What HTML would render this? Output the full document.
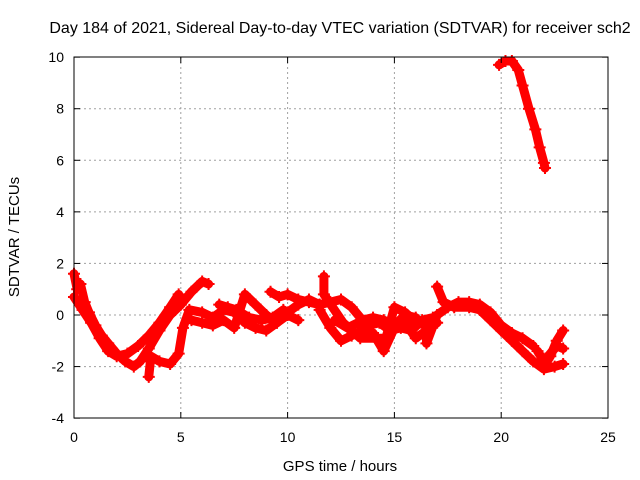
<!DOCTYPE html>
<html><head><meta charset="utf-8"><style>
body{margin:0;background:#fff;}
svg{display:block;font-family:"Liberation Sans",sans-serif;}
</style></head><body>
<svg id="chart" width="640" height="480" viewBox="0 0 640 480">
<text x="340" y="33" font-size="16" text-anchor="middle">Day 184 of 2021, Sidereal Day-to-day VTEC variation (SDTVAR) for receiver sch2</text>
<text x="340" y="471" font-size="15" text-anchor="middle">GPS time / hours</text>
<text x="19" y="237" font-size="15" text-anchor="middle" transform="rotate(-90 19 237)">SDTVAR / TECUs</text>
<g id="grid"></g>
<g id="marks"></g>
<rect x="74" y="57" width="534" height="361" fill="none" stroke="#000" stroke-width="1"/>
<g id="ticks"></g>
</svg>
<script>
const xTicks=[0,5,10,15,20,25];
const yTicks=[-4,-2,0,2,4,6,8,10];
const s1=[[0,1.6],[0.15,1.0],[0.3,1.2],[0.5,0.5],[0.7,0.1],[1,-0.4],[1.3,-0.8],[1.6,-1.1],[2,-1.5],[2.4,-1.8],[2.8,-2.0],[3.1,-1.8],[3.5,-1.3],[4,-0.6],[4.5,0],[5,0.4],[5.5,0.9],[6,1.3],[6.3,1.2]];
const s2=[[0,0.7],[0.4,0.2],[0.8,-0.3],[1.2,-0.9],[1.6,-1.4],[2,-1.6],[2.5,-1.5],[3,-1.2],[3.5,-0.8],[4,-0.3],[4.5,0.3],[4.9,0.8]];
const s3=[[3.5,-2.4],[3.6,-1.6],[4,-1.8],[4.5,-1.9],[4.9,-1.5],[5.1,-0.5],[5.4,0.2],[6,0.1],[6.5,-0.1],[7,0.2],[7.5,0.1],[8,-0.3],[8.5,-0.5],[9,-0.6],[9.5,-0.3],[10,0.1],[10.5,0.4],[11,0.6],[11.5,0.4]];
const s4=[[5.5,-0.2],[6,-0.3],[6.5,-0.4],[7,-0.2],[7.5,-0.5],[8,0.8],[8.5,0.4],[9,0],[9.5,-0.3],[10,0],[10.5,-0.2]];
const s5=[[9.2,0.9],[9.6,0.7],[10,0.8],[10.5,0.6],[11,0.5],[11.5,0.4],[12,0.5],[12.5,0.6],[13,0.3],[13.5,-0.2],[14,-0.1],[14.5,-0.2],[15,-0.4],[15.5,0],[16,-0.1]];
const s6=[[11.5,0.2],[12,-0.5],[12.5,-1.0],[13,-0.8],[13.5,-0.6],[14,-0.7],[14.5,-1.4],[15,-0.5],[15.5,-0.3],[16,-0.9],[16.5,-0.6],[17,-0.3]];
const s7=[[11.7,1.5],[11.7,0.8],[12.6,-0.3],[13.4,-0.9],[14.6,-0.9],[15,0.3],[15.5,0.1],[16,-0.3],[16.5,-0.4],[16.5,-1.1],[17,0],[17.5,0.3],[18,0.5],[18.5,0.5],[19,0.4],[19.5,0.1],[20,-0.4],[20.5,-0.7],[21,-0.9],[21.5,-1.2]];
const s8=[[17,1.1],[17.3,0.5],[17.8,0.3],[18.5,0.3],[19,0.2],[19.5,-0.2],[20,-0.6],[20.5,-1.0],[21,-1.4],[21.5,-1.8],[22,-2.1],[22.5,-2.0],[22.9,-1.9]];
const s9=[[21.7,-1.4],[22,-1.8],[22.3,-1.5],[22.6,-1.2],[22.9,-1.3]];
const s10=[[22,-2.0],[22.3,-1.6],[22.6,-1.0],[22.9,-0.6]];
const s11=[[19.9,9.7],[20.2,9.85],[20.5,9.85],[20.8,9.5],[21,8.9],[21.3,8.0],[21.6,7.2],[21.8,6.5],[22,5.9],[22.05,5.7]];
const s12=[[12.2,-0.2],[12.8,-0.5],[13.3,-0.3],[13.8,-0.4],[14.3,-0.3],[14.8,-0.6],[15.3,-0.5],[15.8,-0.6],[16.3,-0.2],[16.8,-0.1]];
const s13=[[6.8,0.4],[7.2,0.3],[7.6,0.2],[8.2,-0.1],[8.8,-0.2],[9.3,-0.1],[9.8,0.2]];
const seriesList=[s1,s2,s3,s4,s5,s6,s7,s8,s9,s10,s11,s12,s13];
const X=t=>74+t*(534/25);
const Y=v=>315-v*(361/14);
const NS='http://www.w3.org/2000/svg';
const grid=document.getElementById('grid'),ticks=document.getElementById('ticks'),marks=document.getElementById('marks');
function mk(tag,attrs,parent){const e=document.createElementNS(NS,tag);for(const k in attrs)e.setAttribute(k,attrs[k]);parent.appendChild(e);return e;}
xTicks.forEach(t=>{const x=X(t);
 if(t>0&&t<25){const g=mk('line',{x1:x,x2:x,y1:57,y2:418,stroke:'#a0a0a0','stroke-dasharray':'2,3'},grid);
 
 }
 mk('line',{x1:x,x2:x,y1:418,y2:412,stroke:'#000'},ticks);mk('line',{x1:x,x2:x,y1:57,y2:63,stroke:'#000'},ticks);
 const l=mk('text',{x:x,y:442,'font-size':'14','text-anchor':'middle'},ticks);l.textContent=t;
 
 });
yTicks.forEach(v=>{const y=Y(v);
 if(v>-4&&v<10){const g=mk('line',{x1:74,x2:608,y1:y,y2:y,stroke:'#a0a0a0','stroke-dasharray':'2,3'},grid);
 
 }
 mk('line',{x1:74,x2:80,y1:y,y2:y,stroke:'#000'},ticks);mk('line',{x1:608,x2:602,y1:y,y2:y,stroke:'#000'},ticks);
 const l=mk('text',{x:64,y:y+5,'font-size':'14','text-anchor':'end'},ticks);l.textContent=v;
 
 });
seriesList.forEach((s,i)=>{
 const p=mk('polyline',{points:s.map(d=>X(d[0])+','+Y(d[1])).join(' '),fill:'none',stroke:'#ff0000','stroke-width':9,'stroke-linejoin':'round','stroke-linecap':'round'},marks);
 
 
 s.forEach(d=>{const x=X(d[0]),y=Y(d[1]);
  const m=mk('path',{d:`M${x-6},${y}H${x+6}M${x},${y-6}V${y+6}`,stroke:'#ff0000','stroke-width':2},marks);
  
  });
});
</script>
</body></html>
